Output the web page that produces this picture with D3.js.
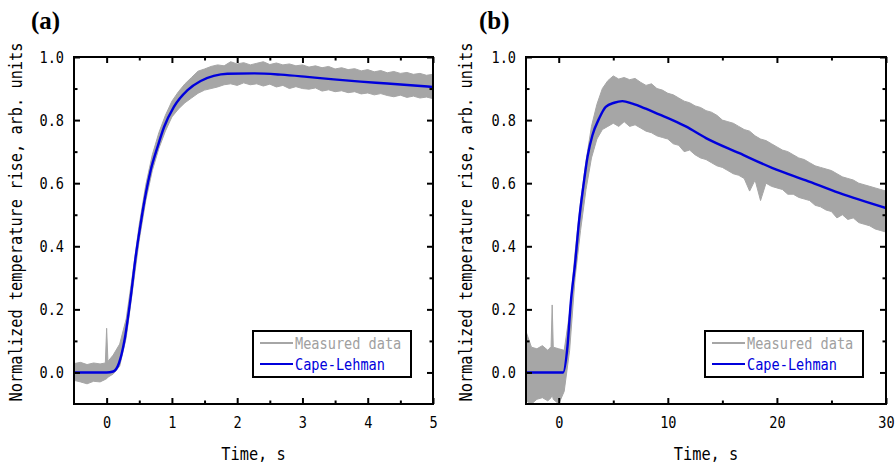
<!DOCTYPE html>
<html lang="en">
<head>
<meta charset="UTF-8">
<title>Normalized temperature rise</title>
<script src="https://d3js.org/d3.v7.min.js"></script>
<style>
  body { margin: 0; background: #fff; }
  svg text { font-family: "DejaVu Sans Mono", monospace; }
</style>
</head>
<body>
<div id="chart"></div>
<script>

// ---- panel (a) : measured data envelope (min / max per time bin) ----
const timeA = [-0.5, -0.4, -0.3, -0.2, -0.1, -0.02, 0.0, 0.02, 0.1, 0.2, 0.3, 0.4, 0.5, 0.6, 0.7, 0.8, 0.9,
  1.0, 1.1, 1.2, 1.3, 1.4, 1.5, 1.6, 1.7, 1.8, 1.9, 2.0, 2.1, 2.2, 2.3, 2.4, 2.5, 2.6, 2.7, 2.8, 2.9,
  3.0, 3.1, 3.2, 3.3, 3.4, 3.5, 3.6, 3.7, 3.8, 3.9, 4.0, 4.1, 4.2, 4.3, 4.4, 4.5, 4.6, 4.7, 4.8, 4.9, 5.0]
const highA = [0.028, 0.032, 0.025, 0.030, 0.027, 0.030, 0.140, 0.035, 0.055, 0.090, 0.170, 0.315, 0.470, 0.595, 0.690, 0.760, 0.815,
  0.860, 0.890, 0.915, 0.935, 0.955, 0.962, 0.970, 0.975, 0.972, 0.985, 0.978, 0.982, 0.975, 0.980, 0.985, 0.976, 0.981, 0.975, 0.978, 0.972,
  0.975, 0.968, 0.972, 0.966, 0.970, 0.962, 0.966, 0.960, 0.963, 0.956, 0.960, 0.953, 0.957, 0.950, 0.954, 0.948, 0.951, 0.945, 0.948, 0.942, 0.945]
const lowA = [-0.025, -0.030, -0.036, -0.028, -0.030, -0.022, -0.020, -0.015, -0.005, 0.020, 0.110, 0.265, 0.420, 0.545, 0.640, 0.710, 0.765,
  0.810, 0.835, 0.855, 0.870, 0.885, 0.895, 0.900, 0.905, 0.912, 0.915, 0.910, 0.918, 0.912, 0.915, 0.908, 0.914, 0.905, 0.910, 0.900, 0.906,
  0.900, 0.898, 0.902, 0.892, 0.896, 0.890, 0.893, 0.887, 0.890, 0.883, 0.886, 0.880, 0.884, 0.878, 0.874, 0.879, 0.872, 0.876, 0.870, 0.873, 0.868]

// ---- panel (a) : Cape-Lehman fit ----
const fitTimeA = [-0.5, 0.0, 0.1, 0.19, 0.27, 0.37, 0.445, 0.52, 0.6, 0.675, 0.78, 0.88, 1.03, 1.24, 1.44, 1.64, 1.85, 2.26, 2.67, 3.07, 3.48, 3.89, 4.3, 5.0]
const fitValA = [0.0, 0.0, 0.003, 0.03, 0.098, 0.24, 0.367, 0.47, 0.567, 0.641, 0.715, 0.778, 0.842, 0.895, 0.924, 0.94, 0.947, 0.948, 0.944, 0.937, 0.929, 0.922, 0.916, 0.905]

// ---- panel (b) : measured data envelope ----
const timeB = [-3.0, -2.5, -2.0, -1.5, -1.0, -0.7, -0.6, -0.5, 0.0, 0.5, 1.0, 1.5, 2.0, 2.5, 3.0, 3.5, 4.0, 4.5,
  5.0, 5.5, 6.0, 6.5, 7.0, 7.5, 8.0, 8.5, 9.0, 9.5, 10.0, 10.5, 11.0, 11.5, 12.0, 12.5, 13.0, 13.5, 14.0, 14.5,
  15.0, 15.5, 16.0, 16.5, 17.0, 17.5, 18.0, 18.5, 19.0, 19.5, 20.0, 20.5, 21.0, 21.5, 22.0, 22.5, 23.0, 23.5, 24.0, 24.5,
  25.0, 25.5, 26.0, 26.5, 27.0, 27.5, 28.0, 28.5, 29.0, 29.5, 30.0]
const highB = [0.130, 0.080, 0.075, 0.085, 0.070, 0.082, 0.214, 0.080, 0.075, 0.070, 0.190, 0.380, 0.540, 0.670, 0.780, 0.850, 0.900, 0.925,
  0.940, 0.930, 0.935, 0.928, 0.932, 0.920, 0.910, 0.915, 0.900, 0.895, 0.885, 0.880, 0.870, 0.860, 0.855, 0.845, 0.840, 0.830, 0.825, 0.815,
  0.800, 0.795, 0.790, 0.780, 0.770, 0.765, 0.750, 0.740, 0.735, 0.725, 0.715, 0.705, 0.700, 0.690, 0.680, 0.675, 0.665, 0.655, 0.650, 0.645,
  0.640, 0.630, 0.620, 0.615, 0.610, 0.600, 0.595, 0.590, 0.585, 0.580, 0.575]
const lowB = [-0.090, -0.100, -0.085, -0.080, -0.090, -0.080, -0.070, -0.085, -0.100, -0.060, 0.070, 0.300, 0.450, 0.580, 0.680, 0.740, 0.770, 0.780,
  0.790, 0.780, 0.795, 0.780, 0.785, 0.775, 0.765, 0.760, 0.750, 0.745, 0.740, 0.725, 0.720, 0.700, 0.705, 0.690, 0.680, 0.675, 0.665, 0.655,
  0.650, 0.640, 0.630, 0.625, 0.615, 0.575, 0.610, 0.545, 0.600, 0.590, 0.585, 0.580, 0.565, 0.565, 0.555, 0.550, 0.545, 0.530, 0.525, 0.515,
  0.510, 0.490, 0.500, 0.485, 0.490, 0.475, 0.470, 0.465, 0.455, 0.450, 0.445]

// ---- panel (b) : Cape-Lehman fit ----
const fitTimeB = [-3.0, 0.4, 0.8, 1.1, 1.5, 1.87, 2.25, 2.64, 3.09, 3.7, 4.31, 5.08, 5.84, 6.76, 7.98, 9.2, 10.43, 11.65, 13.5, 16.56, 19.6, 22.66, 25.7, 30.0]
const fitValB = [0.0, 0.0, 0.082, 0.22, 0.346, 0.483, 0.589, 0.684, 0.752, 0.805, 0.842, 0.855, 0.86, 0.852, 0.836, 0.818, 0.80, 0.78, 0.743, 0.695, 0.648, 0.609, 0.569, 0.521]

// ---- ticks / labels ----
const yMajor = [0.0, 0.2, 0.4, 0.6, 0.8, 1.0]
const yMinor = [0.1, 0.3, 0.5, 0.7, 0.9]
const xMajorA = [0, 1, 2, 3, 4, 5]
const xMinorA = [0.5, 1.5, 2.5, 3.5, 4.5]
const xMajorB = [0, 10, 20, 30]
const xMinorB = [5, 15, 25]
const legendLabels = ["Measured data", "Cape-Lehman"]

const GRAY = "#a6a6a6"
const BLUE = "#0000dc"
const SQ = 0.85   // horizontal squeeze of the mono font

const svg = d3.select("#chart").append("svg")
    .attr("width", 896)
    .attr("height", 467)

function drawPanel(p) {
    const x = d3.scaleLinear().domain(p.xDomain).range([p.left, p.right])
    const y = d3.scaleLinear().domain([-0.1, 1.0]).range([p.bottom, p.top])
    const g = svg.append("g")

    g.append("clipPath").attr("id", "clip" + p.id)
        .append("rect")
        .attr("x", p.left).attr("y", p.top)
        .attr("width", p.right - p.left).attr("height", p.bottom - p.top)

    const measured = p.time.map((t, i) => ({ t: t, hi: p.high[i], lo: p.low[i] }))
    const fit = p.fitTime.map((t, i) => ({ t: t, v: p.fitVal[i] }))

    const area = d3.area()
        .x(d => x(d.t))
        .y0(d => y(d.lo))
        .y1(d => y(d.hi))

    g.append("path")
        .datum(measured)
        .attr("clip-path", `url(#clip${p.id})`)
        .attr("fill", GRAY)
        .attr("stroke", GRAY)
        .attr("stroke-width", 1)
        .attr("d", area)

    const line = d3.line()
        .x(d => x(d.t))
        .y(d => y(d.v))
        .curve(d3.curveMonotoneX)

    g.append("path")
        .datum(fit)
        .attr("clip-path", `url(#clip${p.id})`)
        .attr("fill", "none")
        .attr("stroke", BLUE)
        .attr("stroke-width", 2.4)
        .attr("d", line)

    // axes, ticks pointing inward on all four sides
    const axes = [
        [d3.axisBottom(x).tickValues(p.xMajor).tickSize(-6).tickPadding(13).tickFormat(d3.format("d")), `translate(0,${p.bottom})`],
        [d3.axisBottom(x).tickValues(p.xMinor).tickSize(-3.5).tickFormat(""), `translate(0,${p.bottom})`],
        [d3.axisTop(x).tickValues(p.xMajor).tickSize(-6).tickFormat(""), `translate(0,${p.top})`],
        [d3.axisTop(x).tickValues(p.xMinor).tickSize(-3.5).tickFormat(""), `translate(0,${p.top})`],
        [d3.axisLeft(y).tickValues(yMajor).tickSize(-6).tickPadding(10 / SQ).tickFormat(d3.format(".1f")), `translate(${p.left},0)`],
        [d3.axisLeft(y).tickValues(yMinor).tickSize(-3.5).tickFormat(""), `translate(${p.left},0)`],
        [d3.axisRight(y).tickValues(yMajor).tickSize(-6).tickFormat(""), `translate(${p.right},0)`],
        [d3.axisRight(y).tickValues(yMinor).tickSize(-3.5).tickFormat(""), `translate(${p.right},0)`]
    ]
    axes.forEach(a => {
        const ag = g.append("g")
            .attr("transform", a[1])
            .call(a[0])
        ag.select(".domain").remove()
        ag.selectAll("line").attr("stroke", "#000").attr("stroke-width", 2)
        ag.selectAll("text")
            .attr("font-family", "DejaVu Sans Mono")
            .attr("font-size", 16)
            .attr("fill", "#000")
            .attr("transform", `scale(${SQ},1)`)
    })

    // frame
    g.append("rect")
        .attr("x", p.left).attr("y", p.top)
        .attr("width", p.right - p.left).attr("height", p.bottom - p.top)
        .attr("fill", "none")
        .attr("stroke", "#000")
        .attr("stroke-width", 2)

    // axis titles
    g.append("text")
        .attr("transform", `translate(${(p.left + p.right) / 2},460) scale(${SQ},1)`)
        .attr("text-anchor", "middle")
        .attr("font-size", 18)
        .text("Time, s")

    g.append("text")
        .attr("transform", `translate(${p.yTitleX},222) rotate(-90) scale(${SQ},1)`)
        .attr("text-anchor", "middle")
        .attr("font-size", 18)
        .text("Normalized temperature rise, arb. units")

    // panel label
    g.append("text")
        .attr("x", p.labelX).attr("y", 29)
        .attr("font-weight", "bold")
        .attr("font-size", 25)
        .style("font-family", "Liberation Serif")
        .text(p.label)

    // legend
    const lg = g.append("g").attr("transform", `translate(${p.legendX},331)`)
    lg.append("rect")
        .attr("width", 158).attr("height", 46)
        .attr("fill", "#fff")
        .attr("stroke", "#000")
        .attr("stroke-width", 2)
    const colors = [GRAY, BLUE]
    legendLabels.forEach((lab, i) => {
        lg.append("line")
            .attr("x1", 7).attr("x2", 40)
            .attr("y1", 12 + i * 21).attr("y2", 12 + i * 21)
            .attr("stroke", colors[i])
            .attr("stroke-width", 2)
        lg.append("text")
            .attr("transform", `translate(42,${18 + i * 21}) scale(${SQ},1)`)
            .attr("font-size", 16)
            .attr("fill", i === 0 ? "#a0a0a0" : BLUE)
            .text(lab)
    })
}

drawPanel({
    id: "a", label: "(a)", labelX: 31,
    left: 74, right: 433, top: 57, bottom: 404,
    xDomain: [-0.5, 5], xMajor: xMajorA, xMinor: xMinorA,
    time: timeA, high: highA, low: lowA,
    fitTime: fitTimeA, fitVal: fitValA,
    yTitleX: 22, legendX: 253
})

drawPanel({
    id: "b", label: "(b)", labelX: 479,
    left: 526, right: 886, top: 57, bottom: 404,
    xDomain: [-3, 30], xMajor: xMajorB, xMinor: xMinorB,
    time: timeB, high: highB, low: lowB,
    fitTime: fitTimeB, fitVal: fitValB,
    yTitleX: 472, legendX: 705
})

</script>
</body>
</html>
